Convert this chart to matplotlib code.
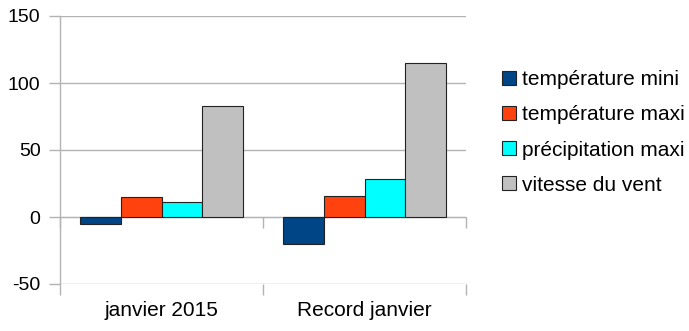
import numpy as np
import matplotlib
matplotlib.use("Agg")
import matplotlib.pyplot as plt

plt.rcParams['font.family'] = ['Liberation Sans', 'DejaVu Sans']
plt.rcParams['axes.unicode_minus'] = False

# données
categories = ["janvier 2015", "Record janvier"]
series_names = ["température mini", "température maxi", "précipitation maxi", "vitesse du vent"]
temp_mini = [-5, -20]
temp_maxi = [15, 16]
precip_maxi = [11, 28]
vitesse_vent = [83, 115]
yticks = [-50, 0, 50, 100, 150]

colors = ["#004586", "#ff420e", "#00ffff", "#c0c0c0"]
grid_col = "#b3b3b3"

fig = plt.figure(figsize=(6.89, 3.31), dpi=100)
ax = fig.add_axes([60/689, 1 - 284/331, 406/689, 268/331])

x = np.arange(len(categories))
w = 0.2
all_series = [temp_mini, temp_maxi, precip_maxi, vitesse_vent]
for i, (vals, name) in enumerate(zip(all_series, series_names)):
    ax.bar(x + (i - 1.5) * w, vals, width=w, color=colors[i], edgecolor="#222222",
           linewidth=0.8, label=name, zorder=3)

ax.set_xlim(-0.5, len(categories) - 0.5)
ax.set_ylim(-50, 150)
ax.set_yticks(yticks)
ax.yaxis.grid(True, color=grid_col, linewidth=1.0, zorder=0)

for s in ["top", "right", "bottom"]:
    ax.spines[s].set_visible(False)
ax.spines["left"].set_color(grid_col)
ax.spines["left"].set_linewidth(1.0)

ax.tick_params(axis="y", length=8, width=1.0, color=grid_col, labelsize=14, pad=6)

# séparateurs de catégories en bas, étiquettes au centre
bounds = np.arange(len(categories) + 1) - 0.5
ax.set_xticks(bounds)
ax.set_xticklabels([])
ax.tick_params(axis="x", which="major", length=8, width=1.0, color=grid_col)
ax.set_xticks(x, minor=True)
ax.set_xticklabels(categories, minor=True)
ax.tick_params(axis="x", which="minor", length=0, labelsize=15, pad=12)

# axe des x à zéro
sec = ax.secondary_xaxis(50 / 200)
sec.set_xticks(bounds)
sec.set_xticklabels([])
sec.tick_params(axis="x", length=8, width=1.0, color=grid_col)
sec.spines["bottom"].set_color(grid_col)

fig.legend(loc="upper left", bbox_to_anchor=(502/689, 1 - 70/331), frameon=False,
           fontsize=15, handlelength=0.65, handleheight=0.65, handletextpad=0.3,
           labelspacing=0.78, borderpad=0, borderaxespad=0)

fig.savefig("out.png", dpi=100)
